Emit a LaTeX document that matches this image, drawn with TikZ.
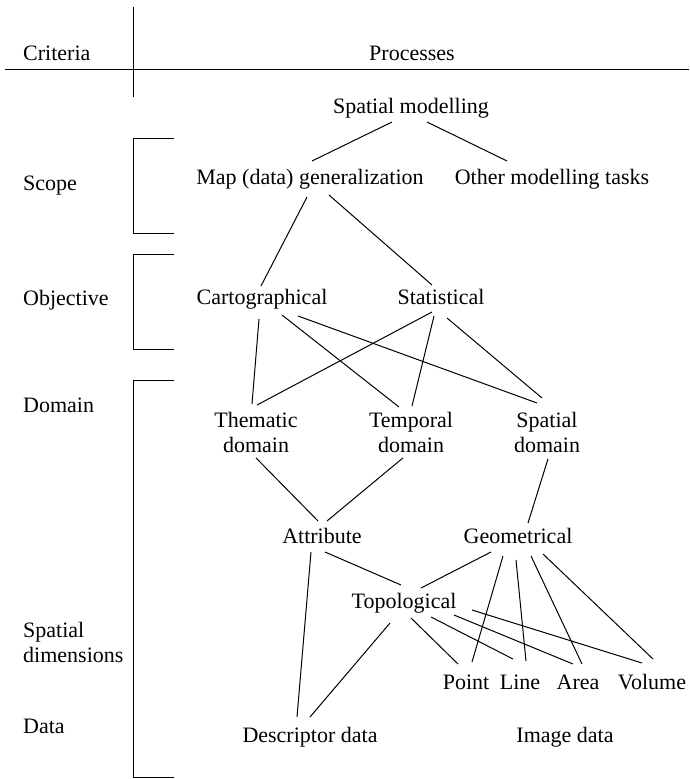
\documentclass[tikz,border=0pt]{standalone}
\usepackage{fontspec}
\setmainfont{Liberation Serif}
\usetikzlibrary{calc}
\begin{document}
\begin{tikzpicture}[x=1pt,y=-1pt,
  txt/.style={inner sep=0pt, font=\fontsize{22}{25}\selectfont},
  lbl/.style={txt, anchor=base},
  two/.style={txt, anchor=north, align=center},
  crit/.style={txt, anchor=base west},
  critwo/.style={txt, anchor=north west, align=left},
  link/.style={line width=1pt},
  rule/.style={line width=1pt}]
\useasboundingbox (0,0) rectangle (689,779);

% header
\node[crit] (hcrit) at (23,60) {Criteria};
\node[lbl] (hproc) at (412,60) {Processes};
\draw[rule] (5,69) -- (689,69);
\draw[rule] (133.5,7) -- (133.5,97);

% criteria labels and brackets
\node[crit] (cscope) at (23,190) {Scope};
\node[crit] (cobj) at (23,305) {Objective};
\node[crit] (cdom) at (23,412) {Domain};
\node[critwo] (cdim) at (23,622) {Spatial\\dimensions};
\node[crit] (cdata) at (23,733) {Data};
\draw[rule] (174,138) -- (133.5,138) -- (133.5,233) -- (174,233);
\draw[rule] (174,254) -- (133.5,254) -- (133.5,349) -- (174,349);
\draw[rule] (174,380) -- (133.5,380) -- (133.5,777) -- (174,777);

% process nodes
\node[lbl] (sm) at (411,113) {Spatial modelling};
\node[lbl] (map) at (310,184) {Map (data) generalization};
\node[lbl] (oth) at (552,184) {Other modelling tasks};
\node[lbl] (cart) at (262,304) {Cartographical};
\node[lbl] (stat) at (441,304) {Statistical};
\node[two] (them) at (256,412) {Thematic\\domain};
\node[two] (temp) at (411,412) {Temporal\\domain};
\node[two] (spat) at (547,412) {Spatial\\domain};
\node[lbl] (attr) at (322,543) {Attribute};
\node[lbl] (geo) at (518,543) {Geometrical};
\node[lbl] (topo) at (404,608) {Topological};
\node[lbl] (pt) at (466,689) {Point};
\node[lbl] (ln) at (520,689) {Line};
\node[lbl] (ar) at (578,689) {Area};
\node[lbl] (vol) at (652,689) {Volume};
\node[lbl] (desc) at (310,742) {Descriptor data};
\node[lbl] (img) at (565,742) {Image data};

% connectors
\draw[link] ($(sm.base)+(-19,9)$) -- ($(map.base)+(2,-23)$);
\draw[link] ($(sm.base)+(16,9)$) -- ($(oth.base)+(-45,-23)$);
\draw[link] ($(map.base)+(-3,13)$) -- ($(cart.base)+(-1,-18)$);
\draw[link] ($(map.base)+(19,11)$) -- ($(stat.base)+(-9,-19)$);

\draw[link] ($(cart.base)+(-3,15)$) -- ($(them.north)+(-4,-8)$);
\draw[link] ($(cart.base)+(20,11)$) -- ($(temp.north)+(-12,-5)$);
\draw[link] ($(cart.base)+(36,12)$) -- ($(spat.north)+(-10,-9)$);
\draw[link] ($(stat.base)+(-9,8)$) -- ($(them.north)+(1,-7)$);
\draw[link] ($(stat.base)+(-7,12)$) -- ($(temp.north)+(1,-6)$);
\draw[link] ($(stat.base)+(6,14)$) -- ($(spat.north)+(-5,-14)$);

\draw[link] ($(them.south)+(0,5)$) -- ($(attr.base)+(-4,-22)$);
\draw[link] ($(temp.south)+(-8,5)$) -- ($(attr.base)+(5,-22)$);
\draw[link] ($(spat.south)+(1,6)$) -- ($(geo.base)+(10,-20)$);

\draw[link] ($(attr.base)+(-11,9)$) -- ($(desc.base)+(-13,-25)$);
\draw[link] ($(attr.base)+(3,9)$) -- ($(topo.base)+(-3,-23)$);
\draw[link] ($(geo.base)+(-27,9)$) -- ($(topo.base)+(17,-20)$);
\draw[link] ($(geo.base)+(-15,13)$) -- ($(pt.base)+(6,-27)$);
\draw[link] ($(geo.base)+(-2,17)$) -- ($(ln.base)+(6,-28)$);
\draw[link] ($(geo.base)+(13,13)$) -- ($(ar.base)+(4,-25)$);
\draw[link] ($(geo.base)+(25,11)$) -- ($(vol.base)+(1,-30)$);

\draw[link] ($(topo.base)+(-14,15)$) -- ($(desc.base)+(0,-25)$);
\draw[link] ($(topo.base)+(7,10)$) -- ($(pt.base)+(-8,-25)$);
\draw[link] ($(topo.base)+(27,9)$) -- ($(ln.base)+(-7,-30)$);
\draw[link] ($(topo.base)+(50,7)$) -- ($(ar.base)+(-5,-25)$);
\draw[link] ($(topo.base)+(68,2)$) -- ($(vol.base)+(-10,-26)$);
\end{tikzpicture}
\end{document}
